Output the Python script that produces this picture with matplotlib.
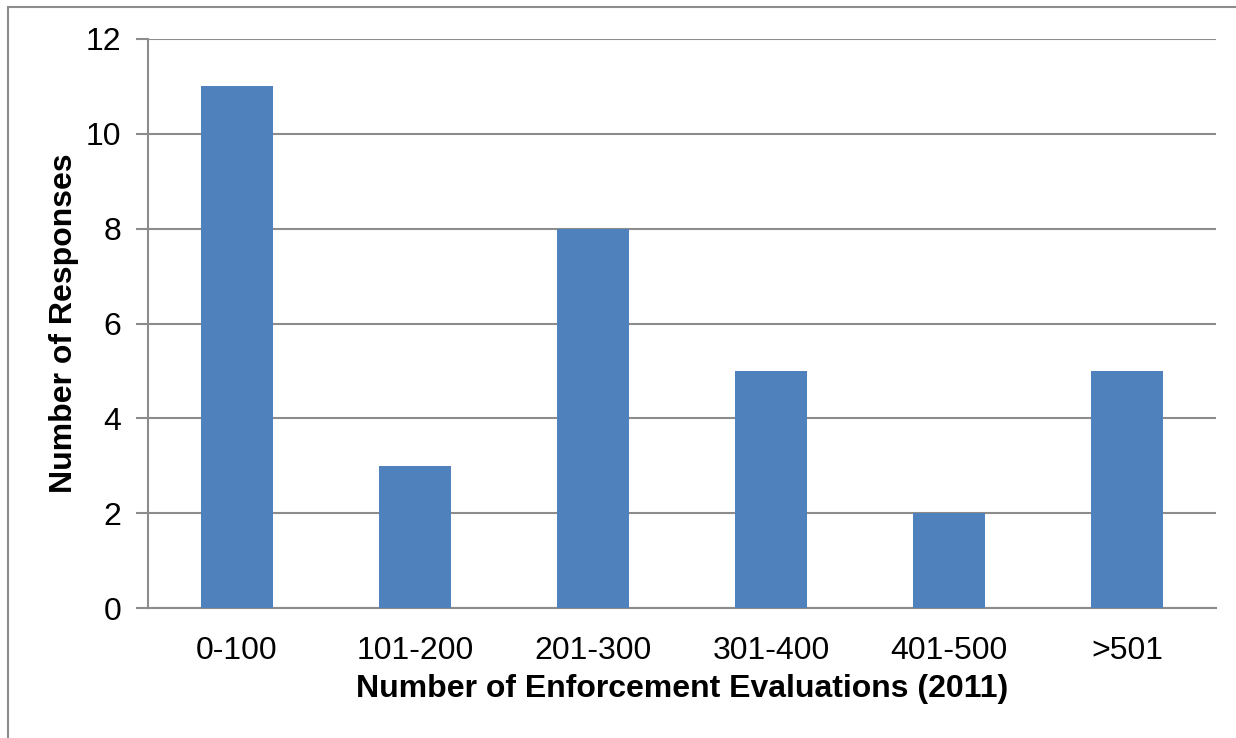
import matplotlib.pyplot as plt
from matplotlib.patches import Rectangle

plt.rcParams['font.family'] = ['Liberation Sans', 'DejaVu Sans']

categories = ['0-100', '101-200', '201-300', '301-400', '401-500', '>501']
responses = [11, 3, 8, 5, 2, 5]

grey = '#8c8c8c'

fig = plt.figure(figsize=(12.36, 7.38), dpi=100)
ax = fig.add_axes([148 / 1236, 130 / 738, 1068 / 1236, 569 / 738])

x = range(len(categories))
ax.bar(x, responses, width=0.4, color='#4f81bd', zorder=3)

ax.set_xlim(-0.5, len(categories) - 0.5)
ax.set_ylim(0, 12)
ax.set_yticks(range(0, 13, 2))
ax.set_xticks(list(x))
ax.set_xticklabels(categories)

ax.yaxis.grid(True, color=grey, linewidth=1.5, zorder=0)
ax.tick_params(axis='y', length=9, width=1.5, color=grey, labelsize=23, pad=10)
ax.tick_params(axis='x', length=0, labelsize=23, pad=20)

for side in ['top', 'right']:
    ax.spines[side].set_visible(False)
for side in ['left', 'bottom']:
    ax.spines[side].set_color(grey)
    ax.spines[side].set_linewidth(1.5)

ax.set_xlabel('Number of Enforcement Evaluations (2011)', fontsize=23,
              fontweight='bold', labelpad=6)
ax.set_ylabel('Number of Responses', fontsize=23, fontweight='bold',
              labelpad=5)

# chart frame, runs off the right and bottom edges
frame = Rectangle((8 / 1236, -0.1), 1.2, 0.1 + 731 / 738,
                  transform=fig.transFigure, fill=False,
                  edgecolor=grey, linewidth=1.5, clip_on=False)
fig.patches.append(frame)

fig.savefig('out.png', dpi=100)
